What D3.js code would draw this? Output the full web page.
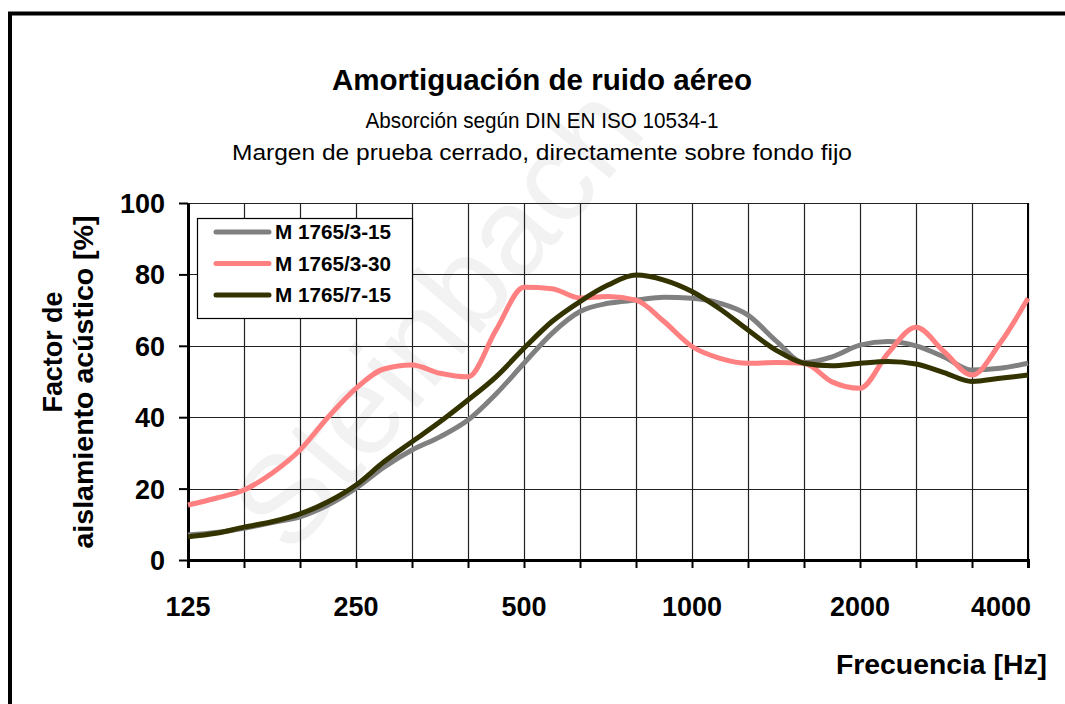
<!DOCTYPE html>
<html>
<head>
<meta charset="utf-8">
<script src="https://cdn.jsdelivr.net/npm/d3@7"></script>
<style>
  body { margin: 0; background: #fff; }
  svg { display: block; font-family: "Liberation Sans", Arial, sans-serif; }
</style>
</head>
<body>
<svg id="chart"></svg>
<script>
// sixth-octave sampling points (nominal Hz), gridlines at third-octave bands
let freqs = ['125','140','160','180','200','224','250','280','315','355','400','450','500','560','630','710',
             '800','900','1000','1120','1250','1400','1600','1800','2000','2240','2500','2800','3150','3550','4000'];
let gridFreqs = ['125','160','200','250','315','400','500','630','800','1000','1250','1600','2000','2500','3150','4000'];
let xLabels = ['125','250','500','1000','2000','4000'];
let yTicks = [0, 20, 40, 60, 80, 100];

let m3_15 = [7.0, 7.7, 8.9, 10.5, 12.1, 15.4, 20.1, 26.0, 30.8, 34.5, 39.2, 46.5, 55.1, 63.5, 69.6, 71.9,
             72.8, 73.6, 73.3, 71.9, 68.6, 61.4, 55.3, 56.9, 60.2, 61.2, 60.0, 56.9, 53.2, 53.7, 55.1];
let m3_30 = [15.4, 17.3, 19.6, 24.3, 30.8, 40.0, 48.1, 53.5, 54.6, 52.3, 51.3, 64.4, 76.4, 76.0, 73.4, 73.8,
             72.8, 66.8, 59.8, 56.5, 55.1, 55.3, 55.1, 49.9, 48.1, 57.9, 65.2, 58.4, 51.8, 60.7, 73.3];
let m7_15 = [6.5, 7.5, 9.2, 10.7, 12.9, 16.3, 21.0, 27.5, 33.1, 38.7, 44.8, 51.3, 59.3, 66.8, 72.4, 77.0,
             79.8, 78.4, 75.2, 70.3, 64.4, 58.8, 55.1, 54.4, 55.1, 55.6, 54.9, 52.5, 50.0, 50.9, 51.8];

let seriesNames = ['M 1765/3-15', 'M 1765/3-30', 'M 1765/7-15'];
let seriesColors = ['#808080', '#ff8080', '#333300'];
let seriesData = [m3_15, m3_30, m7_15];

let svgWidth = 1065, svgHeight = 704;
let margin = {left: 188, top: 203, right: 37, bottom: 144};
let plotW = svgWidth - margin.left - margin.right;   // 840
let plotH = svgHeight - margin.top - margin.bottom;  // 357

let svg = d3.select('#chart')
            .attr('width', svgWidth)
            .attr('height', svgHeight);

svg.append('rect').attr('width', svgWidth).attr('height', svgHeight).attr('fill', '#fff');

// outer frame (only top and left visible)
svg.append('path')
   .attr('d', 'M10,' + svgHeight + 'V13.5H' + svgWidth)
   .attr('fill', 'none').attr('stroke', '#000').attr('stroke-width', 4);

// faint watermark
svg.append('text')
   .attr('transform', 'translate(470,345) rotate(-50)')
   .attr('text-anchor', 'middle')
   .attr('font-size', 125)
   .attr('fill', '#f2f2f2')
   .text('Steinbach');

// titles
svg.append('text').attr('x', 542).attr('y', 90).attr('text-anchor', 'middle')
   .attr('font-size', 29).attr('font-weight', 'bold')
   .attr('textLength', 420).attr('lengthAdjust', 'spacingAndGlyphs')
   .text('Amortiguación de ruido aéreo');
svg.append('text').attr('x', 542).attr('y', 128).attr('text-anchor', 'middle')
   .attr('font-size', 22)
   .attr('textLength', 353).attr('lengthAdjust', 'spacingAndGlyphs')
   .text('Absorción según DIN EN ISO 10534-1');
svg.append('text').attr('x', 542).attr('y', 160).attr('text-anchor', 'middle')
   .attr('font-size', 22)
   .attr('textLength', 620).attr('lengthAdjust', 'spacingAndGlyphs')
   .text('Margen de prueba cerrado, directamente sobre fondo fijo');

let x = d3.scalePoint().domain(freqs).range([0, plotW]);
let y = d3.scaleLinear().domain([0, 100]).range([plotH, 0]);

let g = svg.append('g').attr('transform', 'translate(' + margin.left + ',' + margin.top + ')');

// grid
g.selectAll('.vgrid')
 .data(gridFreqs.slice(1)).enter()
 .append('line')
 .attr('x1', d => Math.round(x(d)) + 0.5).attr('x2', d => Math.round(x(d)) + 0.5)
 .attr('y1', 0).attr('y2', plotH)
 .attr('stroke', '#222').attr('stroke-width', 1.2);

g.selectAll('.hgrid')
 .data(yTicks.slice(1)).enter()
 .append('line')
 .attr('x1', 0).attr('x2', plotW)
 .attr('y1', d => Math.round(y(d)) + 0.5).attr('y2', d => Math.round(y(d)) + 0.5)
 .attr('stroke', '#222').attr('stroke-width', 1.2);

// right border
g.append('line').attr('x1', plotW).attr('x2', plotW).attr('y1', 0).attr('y2', plotH)
 .attr('stroke', '#000').attr('stroke-width', 2);

// axes
let xAxis = d3.axisBottom(x).tickValues(gridFreqs).tickSize(8).tickFormat('');
g.append('g').attr('transform', 'translate(0,' + plotH + ')').call(xAxis)
 .call(a => a.select('.domain').attr('stroke-width', 3))
 .call(a => a.selectAll('.tick line').attr('stroke-width', 2));

let yAxis = d3.axisLeft(y).tickValues(yTicks).tickSize(9).tickSizeOuter(0).tickFormat('');
g.append('g').call(yAxis)
 .call(a => a.select('.domain').attr('stroke-width', 3))
 .call(a => a.selectAll('.tick line').attr('stroke-width', 2));

// tick labels (last one is pulled inside the frame)
g.selectAll('.xlab')
 .data(xLabels).enter()
 .append('text')
 .attr('x', (d, i) => i == xLabels.length - 1 ? plotW + 3 : x(d))
 .attr('y', plotH + 56)
 .attr('text-anchor', (d, i) => i == xLabels.length - 1 ? 'end' : 'middle')
 .attr('font-size', 27).attr('font-weight', 'bold')
 .text(d => d);

g.selectAll('.ylab')
 .data(yTicks).enter()
 .append('text')
 .attr('x', -23).attr('y', d => y(d) + 10)
 .attr('text-anchor', 'end')
 .attr('font-size', 27).attr('font-weight', 'bold')
 .text(d => d);

// axis titles
svg.append('text').attr('transform', 'translate(62,352) rotate(-90)').attr('text-anchor', 'middle')
   .attr('font-size', 27).attr('font-weight', 'bold')
   .attr('textLength', 121).attr('lengthAdjust', 'spacingAndGlyphs')
   .text('Factor de');
svg.append('text').attr('transform', 'translate(93,382) rotate(-90)').attr('text-anchor', 'middle')
   .attr('font-size', 28).attr('font-weight', 'bold')
   .attr('textLength', 333).attr('lengthAdjust', 'spacingAndGlyphs')
   .text('aislamiento acústico [%]');
svg.append('text').attr('x', 1047).attr('y', 674).attr('text-anchor', 'end')
   .attr('font-size', 27).attr('font-weight', 'bold')
   .attr('textLength', 211).attr('lengthAdjust', 'spacingAndGlyphs')
   .text('Frecuencia [Hz]');

// lines
let line = d3.line()
             .x((d, i) => x(freqs[i]))
             .y(d => y(d))
             .curve(d3.curveMonotoneX);

g.selectAll('.series')
 .data(seriesData).enter()
 .append('path')
 .attr('d', d => line(d))
 .attr('fill', 'none')
 .attr('stroke', (d, i) => seriesColors[i])
 .attr('stroke-width', 5)
 .attr('stroke-linejoin', 'round');

// legend
let legend = svg.append('g').attr('transform', 'translate(197,218)');
legend.append('rect').attr('x', 0.5).attr('y', 0.5).attr('width', 215).attr('height', 100)
      .attr('fill', '#fff').attr('stroke', '#000').attr('stroke-width', 1.2);
let items = legend.selectAll('.item')
                  .data(seriesNames).enter()
                  .append('g')
                  .attr('transform', (d, i) => 'translate(0,' + (14 + i * 31.5) + ')');
items.append('line').attr('x1', 19).attr('x2', 72).attr('y1', 0).attr('y2', 0)
     .attr('stroke', (d, i) => seriesColors[i]).attr('stroke-width', 5).attr('stroke-linecap', 'round');
items.append('text').attr('x', 78).attr('y', 7)
     .attr('font-size', 20).attr('font-weight', 'bold')
     .attr('textLength', 116).attr('lengthAdjust', 'spacingAndGlyphs')
     .text(d => d);
</script>
</body>
</html>
